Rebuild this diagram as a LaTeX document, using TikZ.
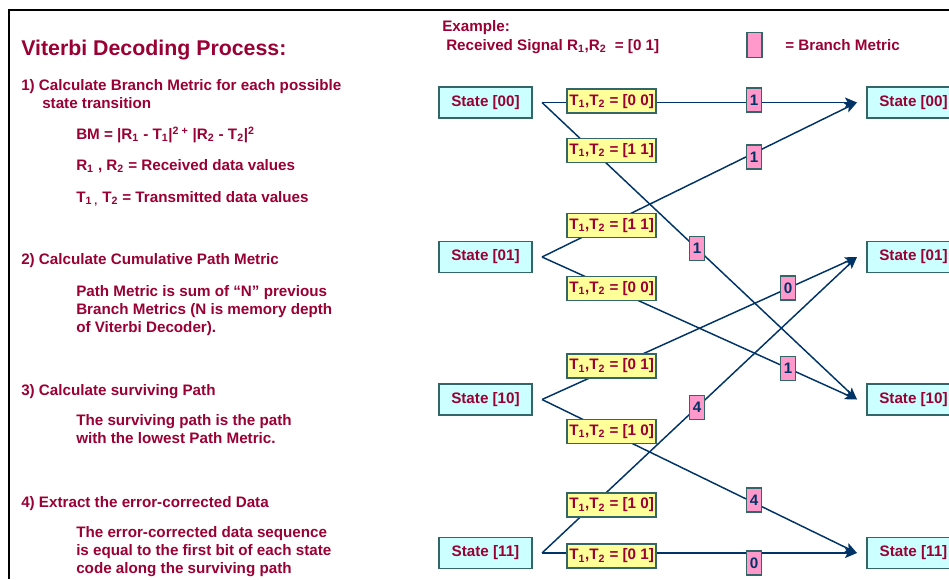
\documentclass[tikz,border=0pt]{standalone}
\usepackage{fontspec}
\setmainfont{Liberation Sans}
\usetikzlibrary{arrows.meta}
\definecolor{vred}{HTML}{990033}
\definecolor{vnavy}{HTML}{003366}
\definecolor{vedge}{HTML}{336666}
\definecolor{vcyan}{HTML}{CCFFFF}
\definecolor{vyellow}{HTML}{FFFF99}
\definecolor{vpink}{HTML}{FF99CC}
\begin{document}
\begin{tikzpicture}[x=0.75pt, y=-0.75pt,
            font=\fontsize{11.4}{13.4}\selectfont\bfseries, text=vred,
            txt/.style={anchor=base west, align=left, inner sep=0pt},
            state/.style={rectangle, draw=vedge, fill=vcyan, line width=1.1pt, minimum width=69.75pt, minimum height=23.25pt, inner sep=0pt, outer xsep=7.5pt, outer ysep=0pt},
            trans/.style={rectangle, draw=vedge, fill=vyellow, line width=1.1pt, minimum width=66.75pt, minimum height=18pt, inner sep=0pt},
            bm/.style={rectangle, draw=vedge, fill=vpink, line width=1.1pt, minimum width=11.25pt, minimum height=18pt, inner sep=0pt, text=vnavy},
            edge/.style={draw=vnavy, line width=1.1pt, -{Stealth[length=9pt, width=7.5pt, inset=2pt]}},
        ]
            \useasboundingbox (0,0) rectangle (949,579);
            \draw[line width=2.2pt] (9,579) -- (9,10) -- (949,10);

            \node[txt, font=\fontsize{16}{19}\selectfont\bfseries] (title) at (21,55) {Viterbi Decoding Process:};
            \node[txt] (step1) at (21,108.3) {1) Calculate Branch Metric for each possible\\\hspace{15.75pt}state transition};
            \node[txt] (bmeq) at (76,139.3) {BM = |R\textsubscript{1} - T\textsubscript{1}|\textsuperscript{2 +} |R\textsubscript{2} - T\textsubscript{2}|\textsuperscript{2}};
            \node[txt] (rdef) at (76,170) {R\textsubscript{1} , R\textsubscript{2} = Received data values};
            \node[txt] (tdef) at (76,202) {T\textsubscript{1 ,} T\textsubscript{2} = Transmitted data values};
            \node[txt] (step2) at (21,264) {2) Calculate Cumulative Path Metric};
            \node[txt] (pmdef) at (76,332) {Path Metric is sum of “N” previous\\Branch Metrics (N is memory depth\\of Viterbi Decoder).};
            \node[txt] (step3) at (21,395) {3) Calculate surviving Path};
            \node[txt] (survdef) at (76,443) {The surviving path is the path\\with the lowest Path Metric.};
            \node[txt] (step4) at (21,507) {4) Extract the error-corrected Data};
            \node[txt] (datadef) at (76,573) {The error-corrected data sequence\\is equal to the first bit of each state\\code along the surviving path};

            \node[txt] (example) at (442,31.7) {Example:};
            \node[txt] (received) at (446,50) {Received Signal R\textsubscript{1},R\textsubscript{2}\ \ = [0 1]};
            \node[bm, minimum height=18.75pt] (keybox) at (754.5,45) {};
            \node[txt] (keytext) at (785,50) {= Branch Metric};

            \node[state] (a00) at (485.5,102.5) {State [00]};
            \node[state] (a01) at (485.5,257) {State [01]};
            \node[state] (a10) at (485.5,399.5) {State [10]};
            \node[state] (a11) at (485.5,553) {State [11]};
            \node[state] (b00) at (913.5,102.5) {State [00]};
            \node[state] (b01) at (913.5,257) {State [01]};
            \node[state] (b10) at (913.5,399.5) {State [10]};
            \node[state] (b11) at (913.5,553) {State [11]};

            \draw[edge] (a00.east) -- node[trans, pos=.221, yshift=1pt] {T\textsubscript{1},T\textsubscript{2} = [0 0]} node[bm, pos=.673, yshift=2pt] {1} (b00.west);
            \draw[edge] (a00.east) -- node[trans, pos=.221, yshift=13.2pt] {T\textsubscript{1},T\textsubscript{2} = [1 1]} node[bm, pos=.492] {1} (b10.west);
            \draw[edge] (a01.east) -- node[trans, pos=.221, yshift=-2pt] {T\textsubscript{1},T\textsubscript{2} = [1 1]} node[bm, pos=.673, yshift=-3pt] {1} (b00.west);
            \draw[edge] (a01.east) -- node[trans, pos=.221] {T\textsubscript{1},T\textsubscript{2} = [0 0]} node[bm, pos=.781] {1} (b10.west);
            \draw[edge] (a10.east) -- node[trans, pos=.221, yshift=1.5pt] {T\textsubscript{1},T\textsubscript{2} = [0 1]} node[bm, pos=.781] {0} (b01.west);
            \draw[edge] (a10.east) -- node[trans, pos=.221, yshift=1.5pt] {T\textsubscript{1},T\textsubscript{2} = [1 0]} node[bm, pos=.673, yshift=2pt] {4} (b11.west);
            \draw[edge] (a11.east) -- node[trans, pos=.221, yshift=-13pt] {T\textsubscript{1},T\textsubscript{2} = [1 0]} node[bm, pos=.492] {4} (b01.west);
            \draw[edge] (a11.east) -- node[trans, pos=.221, yshift=-2.25pt] {T\textsubscript{1},T\textsubscript{2} = [0 1]} node[bm, pos=.673, yshift=-7.5pt] {0} (b11.west);
        \end{tikzpicture}
\end{document}
